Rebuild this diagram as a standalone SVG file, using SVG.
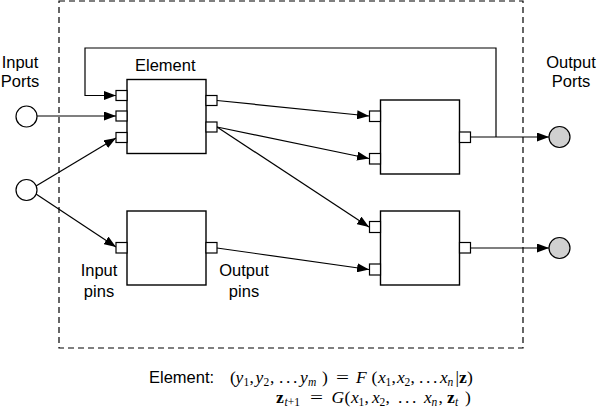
<svg xmlns="http://www.w3.org/2000/svg" width="598" height="414" viewBox="0 0 598 414">
<style>
.box{fill:#fff;stroke:#000;stroke-width:1.4}
.pin{fill:#fff;stroke:#000;stroke-width:1.2}
.port{fill:#fff;stroke:#000;stroke-width:1.2}
.oport{fill:#d0d0d0;stroke:#000;stroke-width:1.2}
.wire{fill:none;stroke:#000;stroke-width:1.2}
.lbl{font-family:"Liberation Sans",Arial,sans-serif;font-size:16.5px;fill:#000}
.m{font-family:"Liberation Serif","Times New Roman",serif;font-size:17.5px;fill:#000}
.i{font-style:italic}
.b{font-weight:bold}
.s{font-size:11.5px}
</style>
<defs>
<marker id="arr" markerWidth="13" markerHeight="9" refX="12" refY="4.5" orient="auto" markerUnits="userSpaceOnUse">
<path d="M0,0 L12,4.5 L0,9 Z" fill="#000"/>
</marker>
</defs>
<rect x="59" y="1" width="464" height="347" fill="none" stroke="#000" stroke-width="1.2" stroke-dasharray="6,4"/>

<g id="connectors">
<polyline class="wire" points="496,137 496,48 85,48 85,95.5 116,95.5" marker-end="url(#arr)"/>
<line class="wire" x1="37" y1="116" x2="116" y2="116" marker-end="url(#arr)"/>
<line class="wire" x1="36" y1="186" x2="116" y2="138" marker-end="url(#arr)"/>
<line class="wire" x1="36" y1="194" x2="116" y2="247" marker-end="url(#arr)"/>
<line class="wire" x1="217" y1="100.5" x2="369" y2="116" marker-end="url(#arr)"/>
<line class="wire" x1="217" y1="127" x2="369" y2="158.5" marker-end="url(#arr)"/>
<line class="wire" x1="217" y1="127" x2="369" y2="227" marker-end="url(#arr)"/>
<line class="wire" x1="217" y1="248" x2="369" y2="269.5" marker-end="url(#arr)"/>
<line class="wire" x1="470" y1="137" x2="549" y2="137" marker-end="url(#arr)"/>
<line class="wire" x1="470" y1="248" x2="549" y2="248" marker-end="url(#arr)"/>
</g>

<g id="in-port-1"><circle class="port" cx="26.5" cy="116.5" r="10.5"/></g>
<g id="in-port-2"><circle class="port" cx="26.5" cy="190" r="10.5"/></g>
<g id="out-port-1"><circle class="oport" cx="559.5" cy="137" r="10.5"/></g>
<g id="out-port-2"><circle class="oport" cx="559.5" cy="248" r="10.5"/></g>

<g id="element-1">
<rect class="box" x="127" y="79.5" width="79" height="74"/>
<rect class="pin" x="116" y="90.5" width="11" height="10"/>
<rect class="pin" x="116" y="111" width="11" height="10"/>
<rect class="pin" x="116" y="132.5" width="11" height="10"/>
<rect class="pin" x="206" y="95.5" width="11" height="10"/>
<rect class="pin" x="206" y="122" width="11" height="10"/>
</g>
<g id="element-2">
<rect class="box" x="127" y="211" width="79" height="74"/>
<rect class="pin" x="116" y="242.5" width="11" height="10.5"/>
<rect class="pin" x="206" y="242.5" width="11" height="10.5"/>
</g>
<g id="element-3">
<rect class="box" x="380.5" y="100" width="79" height="74"/>
<rect class="pin" x="369.5" y="111" width="11" height="10.5"/>
<rect class="pin" x="369.5" y="153.5" width="11" height="10.5"/>
<rect class="pin" x="459.5" y="132" width="11" height="10.5"/>
</g>
<g id="element-4">
<rect class="box" x="380.5" y="211" width="79" height="74"/>
<rect class="pin" x="369.5" y="221.5" width="11" height="11"/>
<rect class="pin" x="369.5" y="264" width="11" height="11"/>
<rect class="pin" x="459.5" y="242.5" width="11" height="10.5"/>
</g>

<g id="labels">
<text class="lbl" x="20" y="67.5" text-anchor="middle">Input</text>
<text class="lbl" x="20" y="87" text-anchor="middle">Ports</text>
<text class="lbl" x="571" y="67.5" text-anchor="middle">Output</text>
<text class="lbl" x="571" y="87" text-anchor="middle">Ports</text>
<text class="lbl" x="135" y="70.5">Element</text>
<text class="lbl" x="99" y="275.5" text-anchor="middle">Input</text>
<text class="lbl" x="99" y="297" text-anchor="middle">pins</text>
<text class="lbl" x="244" y="275.5" text-anchor="middle">Output</text>
<text class="lbl" x="244" y="297" text-anchor="middle">pins</text>
<text class="lbl" x="149" y="383">Element:</text>
</g>

<g id="equations">
<text class="m" y="383">
<tspan x="230">(</tspan><tspan x="235.5" class="i">y</tspan><tspan x="243.5" dy="3" class="s">1</tspan><tspan x="249.5" dy="-3">,</tspan><tspan x="255.5" class="i">y</tspan><tspan x="263.5" dy="3" class="s">2</tspan><tspan x="270" dy="-3">,</tspan><tspan x="279">.</tspan><tspan x="286">.</tspan><tspan x="293">.</tspan><tspan x="300" class="i">y</tspan><tspan x="308" dy="3" class="s i">m</tspan><tspan x="322" dy="-3">)</tspan>
</text>
<text class="m" x="336" y="383" textLength="13" lengthAdjust="spacingAndGlyphs">=</text>
<text class="m" y="383">
<tspan x="356" class="i">F</tspan><tspan x="371.5">(</tspan><tspan x="378" class="i">x</tspan><tspan x="385.5" dy="3" class="s">1</tspan><tspan x="391.5" dy="-3">,</tspan><tspan x="397" class="i">x</tspan><tspan x="404.5" dy="3" class="s">2</tspan><tspan x="410.5" dy="-3">,</tspan><tspan x="419">.</tspan><tspan x="426">.</tspan><tspan x="433">.</tspan><tspan x="440" class="i">x</tspan><tspan x="447.5" dy="3" class="s i">n</tspan><tspan x="455.5" dy="-3">|</tspan><tspan x="459" class="b">z</tspan><tspan x="467">)</tspan>
</text>
<text class="m" y="403">
<tspan x="276" class="b">z</tspan><tspan x="284.5" dy="3" class="s i">t</tspan><tspan class="s">+1</tspan>
</text>
<text class="m" x="310" y="403" textLength="13" lengthAdjust="spacingAndGlyphs">=</text>
<text class="m" y="403">
<tspan x="331.5" class="i">G</tspan><tspan x="344.5">(</tspan><tspan x="351" class="i">x</tspan><tspan x="358.5" dy="3" class="s">1</tspan><tspan x="364.5" dy="-3">,</tspan><tspan x="372" class="i">x</tspan><tspan x="379.5" dy="3" class="s">2</tspan><tspan x="385.5" dy="-3">,</tspan><tspan x="398">.</tspan><tspan x="405">.</tspan><tspan x="412">.</tspan><tspan x="424" class="i">x</tspan><tspan x="431.5" dy="3" class="s i">n</tspan><tspan x="438.5" dy="-3">,</tspan><tspan x="447" class="b">z</tspan><tspan x="455" dy="3" class="s i">t</tspan><tspan x="465" dy="-3">)</tspan>
</text>
</g>
</svg>
